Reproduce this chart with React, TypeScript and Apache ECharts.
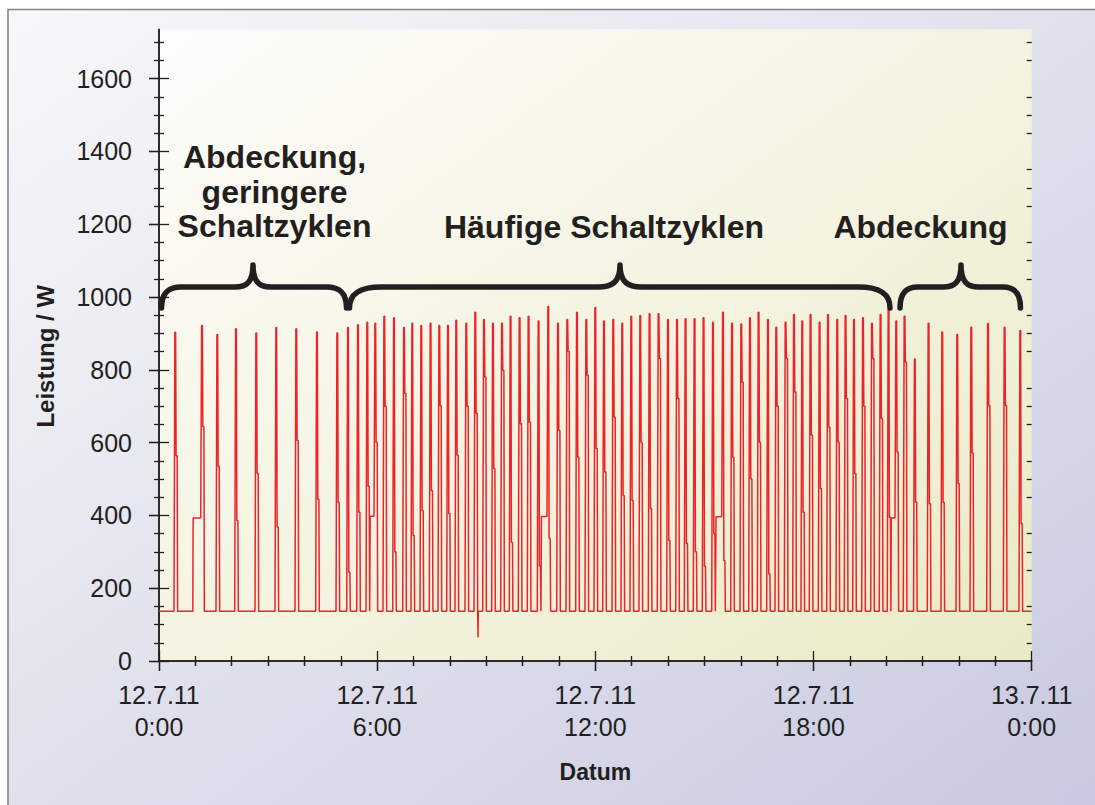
import React, { useEffect, useRef } from "react";
import * as echarts from "echarts";

const FONT = '"Liberation Sans", Arial, Helvetica, sans-serif';
const INK = "#231f20";
const RED = "#ee2229";

// ---- data ----
const BASE_W = 137;

const cycleStartH = [
  0.412, 1.147, 1.568, 2.082, 2.64, 3.19, 3.74, 4.309, 4.868,
  5.162, 5.437, 5.693, 5.913, 6.16, 6.427, 6.702, 6.93, 7.178, 7.433, 7.673, 7.912,
  8.14, 8.415, 8.663, 8.902, 9.149, 9.397, 9.633, 9.881, 10.128, 10.403, 10.67, 10.937,
  11.193, 11.459, 11.715, 11.963, 12.202, 12.458, 12.705, 12.953, 13.2, 13.456, 13.703,
  13.962, 14.21, 14.446, 14.693, 14.941, 15.2, 15.475, 15.722, 15.978, 16.217,
  16.454, 16.712, 16.94, 17.196, 17.427, 17.655, 17.883, 18.131, 18.362, 18.618, 18.846,
  19.077, 19.325, 19.572, 19.808, 20.028, 20.24, 20.468, 20.75,
  21.128, 21.505, 21.918, 22.303, 22.762, 23.219, 23.65,
];

const cyclePeakW = [
  903, 922, 897, 913, 901, 916, 913, 904, 901,
  916, 924, 931, 928, 947, 943, 916, 928, 922, 928, 922, 922,
  936, 928, 958, 938, 928, 928, 947, 943, 947, 934, 974, 928, 938, 958, 938, 971, 934,
  938, 928, 947, 949, 954, 954, 938, 938, 940, 940, 943, 931, 958, 928, 926, 943,
  958, 938, 917, 931, 952, 934, 952, 931, 952, 938, 949, 938, 943, 928, 952, 965, 934,
  947, 830,
  928, 904, 897, 917, 927, 917, 908,
];

const cycleKneeW = [
  564, 644, 535, 386, 516, 368, 606, 444, 436,
  244, 409, 480, 600, 700, 300, 735, 345, 413, 468, 702, 405,
  565, 700, 680, 780, 529, 798, 326, 652, 656, 262, 337, 633, 850, 560, 785, 584, 519,
  670, 455, 441, 600, 419, 831, 331, 721, 323, 300, 260, 350, 276, 560, 766, 500,
  601, 240, 700, 831, 739, 409, 620, 474, 642, 601, 721, 515, 700, 831, 666, 395, 574,
  821, 436,
  432, 436, 488, 571, 702, 702, 378,
];

// hours after switch-on at which the pulse reaches: peak, end of peak, knee, end of knee, base
const pulseOffsetH = [0.025, 0.045, 0.058, 0.088, 0.1];

// intermediate ~395 W stage before some cycles
const preheatStartH = [0.93, 5.8, 10.51, 15.31, 20.13];
const preheatW = [393, 398, 397, 396, 393];

// brief drop below the base load
const dipH = [8.77];
const dipW = [65];

const xTickHours = [0, 6, 12, 18, 24];
const xTickLabels = [
  "12.7.11\n0:00",
  "12.7.11\n6:00",
  "12.7.11\n12:00",
  "12.7.11\n18:00",
  "13.7.11\n0:00",
];
const yMajorTicks = [0, 200, 400, 600, 800, 1000, 1200, 1400, 1600];
const yMinorTicks = [
  50, 100, 150, 250, 300, 350, 450, 500, 550, 650, 700, 750, 850, 900, 950,
  1050, 1100, 1150, 1250, 1300, 1350, 1450, 1500, 1550, 1650, 1700,
];
const Y_MAX = 1735;

const labelTexts = ["Abdeckung,\ngeringere\nSchaltzyklen", "Häufige Schaltzyklen", "Abdeckung"];

// ---- series construction ----
function buildSeries(): [number, number][] {
  const pts: [number, number][] = [[0, BASE_W]];
  cycleStartH.forEach((t, i) => {
    const p = preheatStartH.findIndex((s) => s < t && t - s < 0.25);
    if (p >= 0) {
      pts.push([preheatStartH[p], BASE_W], [preheatStartH[p] + 0.008, preheatW[p]], [t, preheatW[p]]);
    } else {
      pts.push([t, BASE_W]);
    }
    const vals = [cyclePeakW[i], cyclePeakW[i], cycleKneeW[i], cycleKneeW[i], BASE_W];
    pulseOffsetH.forEach((dt, k) => pts.push([t + dt, vals[k]]));
  });
  dipH.forEach((t, i) => {
    pts.push([t, BASE_W], [t + 0.004, dipW[i]], [t + 0.01, BASE_W]);
  });
  pts.push([24, BASE_W]);
  pts.sort((a, b) => a[0] - b[0]);
  return pts;
}

// ---- braces (annotation shapes) ----
function braceD(x1: number, x2: number, xm: number, r: number, hw: number) {
  const yt = 308, yh = 287, yc = 265;
  return (
    `M ${x1} ${yt} C ${x1} ${yh + 6} ${x1 + r * 0.35} ${yh} ${x1 + r} ${yh} ` +
    `L ${xm - hw} ${yh} C ${xm - hw * 0.35} ${yh} ${xm} ${yh - 5} ${xm} ${yc} ` +
    `C ${xm} ${yh - 5} ${xm + hw * 0.35} ${yh} ${xm + hw} ${yh} ` +
    `L ${x2 - r} ${yh} C ${x2 - r * 0.35} ${yh} ${x2} ${yh + 6} ${x2} ${yt}`
  );
}

const BRACES = [
  { name: "braceA", d: braceD(161.5, 346.5, 253, 20, 18) },
  { name: "braceB", d: braceD(349.5, 890, 620, 32, 22) },
  { name: "braceC", d: braceD(900, 1020.5, 961, 18, 18) },
];
BRACES.forEach((b) => {
  echarts.graphic.registerShape(b.name, echarts.graphic.extendPath(b.d, {}));
});

const GRID = { left: 159, top: 29.5, width: 872.7, height: 631.5 };

function hiddenX(gridIndex: number) {
  return { type: "value", gridIndex, min: 0, max: 24, show: false };
}

export default function App() {
  const ref = useRef<HTMLDivElement>(null);

  useEffect(() => {
    if (!ref.current) return;
    const chart = echarts.init(ref.current, undefined, { renderer: "svg" });
    const line = { lineStyle: { color: INK, width: 1.5 } };
    const tickLine = { lineStyle: { color: INK, width: 1.3 } };
    const gridCfg = { ...GRID, containLabel: false, outerBoundsMode: "none" };

    const option: any = {
      animation: false,
      grid: [gridCfg, { ...gridCfg }, { ...gridCfg }, { ...gridCfg }],
      xAxis: [
        {
          type: "value",
          gridIndex: 0,
          position: "bottom",
          min: 0,
          max: 24,
          interval: 6,
          axisLine: { show: true, ...line },
          axisTick: { show: true, inside: false, length: 10, ...tickLine },
          minorTick: { show: true, splitNumber: 6, length: 5, ...tickLine },
          splitLine: { show: false },
          axisLabel: {
            show: true,
            margin: 18,
            fontSize: 25,
            lineHeight: 32,
            color: INK,
            fontFamily: FONT,
            formatter: (v: number) => {
              const i = xTickHours.indexOf(v);
              return i >= 0 ? xTickLabels[i] : "";
            },
          },
          name: "Datum",
          nameLocation: "middle",
          nameGap: 99,
          nameTextStyle: { fontSize: 23, fontWeight: "bold", color: INK, fontFamily: FONT },
        },
        {
          type: "value",
          gridIndex: 0,
          position: "top",
          min: 0,
          max: 24,
          interval: 6,
          axisLine: { show: true, ...line },
          axisTick: { show: true, inside: true, length: 10, ...tickLine },
          minorTick: { show: true, splitNumber: 6, length: 5, ...tickLine },
          splitLine: { show: false },
          axisLabel: { show: false },
        },
        {
          type: "value",
          gridIndex: 1,
          position: "bottom",
          min: 0,
          max: 24,
          interval: 6,
          axisLine: { show: false },
          axisTick: { show: true, inside: true, length: 10, ...tickLine },
          minorTick: { show: true, splitNumber: 6, length: 5, ...tickLine },
          splitLine: { show: false },
          axisLabel: { show: false },
        },
        hiddenX(2),
        hiddenX(3),
      ],
      yAxis: [
        {
          type: "value",
          gridIndex: 0,
          position: "left",
          min: 0,
          max: Y_MAX,
          axisLine: { show: true, ...line },
          axisTick: { show: true, inside: false, length: 10, customValues: yMajorTicks, ...tickLine },
          splitLine: { show: false },
          axisLabel: {
            show: true,
            customValues: yMajorTicks,
            margin: 27,
            fontSize: 25,
            color: INK,
            fontFamily: FONT,
            formatter: (v: number) => String(v),
          },
          name: "Leistung / W",
          nameLocation: "middle",
          nameGap: 102,
          nameTextStyle: {
            fontSize: 24,
            fontWeight: "bold",
            color: INK,
            fontFamily: FONT,
            padding: [0, 22, 0, 0],
          },
        },
        {
          type: "value",
          gridIndex: 0,
          position: "right",
          min: 0,
          max: Y_MAX,
          axisLine: { show: true, ...line },
          axisTick: { show: true, inside: true, length: 10, customValues: yMajorTicks, ...tickLine },
          splitLine: { show: false },
          axisLabel: { show: false },
        },
        {
          type: "value",
          gridIndex: 1,
          position: "left",
          min: 0,
          max: Y_MAX,
          axisLine: { show: false },
          axisTick: { show: true, inside: true, length: 10, customValues: yMajorTicks, ...tickLine },
          splitLine: { show: false },
          axisLabel: { show: false },
        },
        {
          type: "value",
          gridIndex: 1,
          position: "right",
          min: 0,
          max: Y_MAX,
          axisLine: { show: false },
          axisTick: { show: true, inside: true, length: 5, customValues: yMinorTicks, ...tickLine },
          splitLine: { show: false },
          axisLabel: { show: false },
        },
        {
          type: "value",
          gridIndex: 2,
          position: "left",
          min: 0,
          max: Y_MAX,
          axisLine: { show: false },
          axisTick: { show: true, inside: false, length: 5, customValues: yMinorTicks, ...tickLine },
          splitLine: { show: false },
          axisLabel: { show: false },
        },
        {
          type: "value",
          gridIndex: 3,
          position: "left",
          min: 0,
          max: Y_MAX,
          axisLine: { show: false },
          axisTick: { show: true, inside: true, length: 5, customValues: yMinorTicks, ...tickLine },
          splitLine: { show: false },
          axisLabel: { show: false },
        },
      ],
      series: [
        {
          name: "Leistung",
          type: "line",
          xAxisIndex: 0,
          yAxisIndex: 0,
          data: buildSeries(),
          showSymbol: false,
          symbol: "none",
          lineStyle: { color: RED, width: 1.5 },
          z: 3,
        },
      ],
      graphic: {
        elements: [
          {
            type: "rect",
            z: -20,
            silent: true,
            shape: { x: 8, y: 9.5, width: 1100, height: 800 },
            style: {
              fill: {
                type: "linear",
                x: 0,
                y: 0,
                x2: 1,
                y2: 1,
                colorStops: [
                  { offset: 0, color: "#f8f8fa" },
                  { offset: 0.45, color: "#e3e3ee" },
                  { offset: 1, color: "#c8c9e0" },
                ],
              },
              stroke: "#858585",
              lineWidth: 1.6,
            },
          },
          {
            type: "rect",
            z: -10,
            silent: true,
            shape: { x: GRID.left, y: GRID.top, width: GRID.width, height: GRID.height },
            style: {
              fill: {
                type: "linear",
                x: 0,
                y: 0,
                x2: 1,
                y2: 1,
                colorStops: [
                  { offset: 0, color: "#fdfdfb" },
                  { offset: 0.5, color: "#f4f4e2" },
                  { offset: 1, color: "#eaeac6" },
                ],
              },
            },
          },
          ...BRACES.map((b) => ({
            type: b.name,
            x: 0,
            y: 0,
            z: 10,
            silent: true,
            style: { fill: "none", stroke: INK, lineWidth: 5.5, lineCap: "round", lineJoin: "round" },
          })),
          {
            type: "text",
            x: 274.5,
            y: 191.9,
            z: 10,
            style: {
              text: labelTexts[0],
              fill: INK,
              fontSize: 32,
              fontWeight: "bold",
              fontFamily: FONT,
              lineHeight: 34.6,
              align: "center",
              verticalAlign: "middle",
            },
          },
          {
            type: "text",
            x: 604,
            y: 226.5,
            z: 10,
            style: {
              text: labelTexts[1],
              fill: INK,
              fontSize: 32,
              fontWeight: "bold",
              fontFamily: FONT,
              align: "center",
              verticalAlign: "middle",
            },
          },
          {
            type: "text",
            x: 920.5,
            y: 226.5,
            z: 10,
            style: {
              text: labelTexts[2],
              fill: INK,
              fontSize: 32,
              fontWeight: "bold",
              fontFamily: FONT,
              align: "center",
              verticalAlign: "middle",
            },
          },
        ],
      },
    };

    chart.setOption(option);
    return () => chart.dispose();
  }, []);

  return (
    <div
      ref={ref}
      style={{ position: "fixed", left: 0, top: 0, width: 1095, height: 805, background: "#ffffff" }}
    />
  );
}
